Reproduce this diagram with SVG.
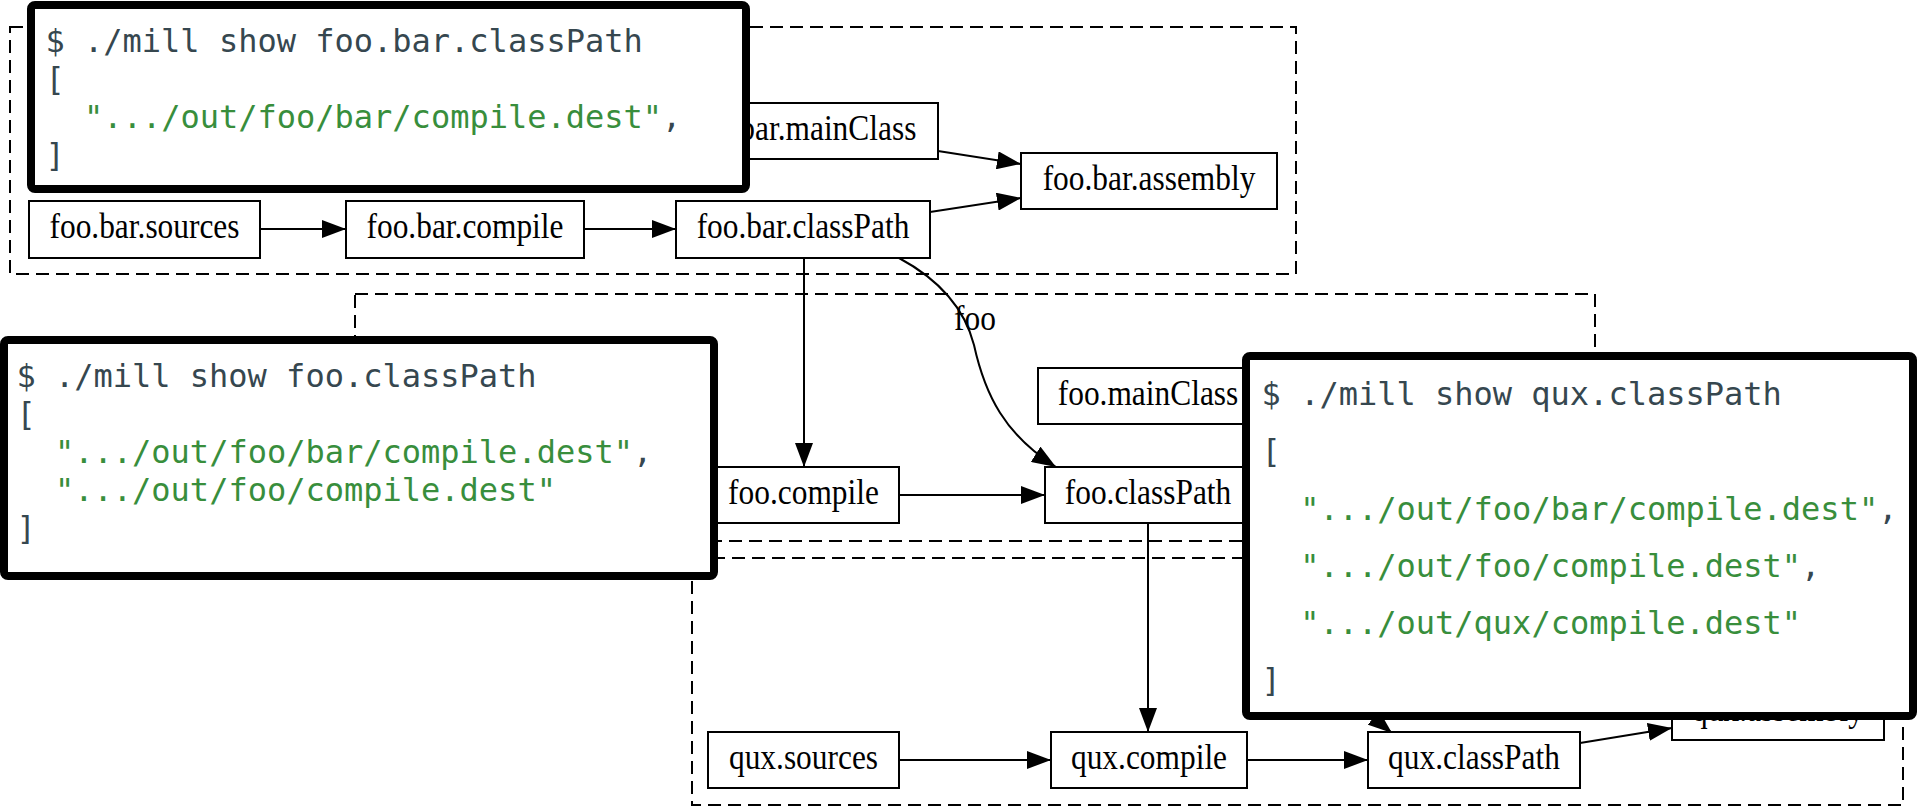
<svg xmlns="http://www.w3.org/2000/svg" width="1920" height="808" viewBox="0 0 1920 808">
<style>
.bg{fill:#ffffff}
.cluster{fill:none;stroke:#000;stroke-width:2;stroke-dasharray:13,7}
.node rect{fill:#fff;stroke:#000;stroke-width:2}
.lbl{font-family:"Liberation Serif","Times New Roman",serif;font-size:31.4px;fill:#000;text-anchor:middle}
.edge{fill:none;stroke:#000;stroke-width:2;marker-end:url(#arr)}
.popup rect{fill:#fff;stroke:#000;stroke-width:8}
.code{font-family:"DejaVu Sans Mono","Liberation Mono",monospace;font-size:32px;fill:#36474f}
.str{fill:#388e3c}
</style>
<defs>
<marker id="arr" viewBox="0 0 24 18" refX="24" refY="9" markerWidth="24" markerHeight="18" markerUnits="userSpaceOnUse" orient="auto">
<path d="M0,0 L24,9 L0,18 z" fill="#000"/>
</marker>
</defs>
<rect class="bg" x="0" y="0" width="1920" height="808"/>
<g id="clusters">
<rect class="cluster" x="10" y="27" width="1286" height="247"/>
<rect class="cluster" x="355" y="294" width="1240" height="247"/>
<text class="lbl" transform="translate(975,330) scale(1,1.15)">foo</text>
<rect class="cluster" x="692" y="558" width="1211" height="247"/>
</g>
<g id="connectors">
<path class="edge" d="M260,229 L346,229"/>
<path class="edge" d="M584,229 L676,229"/>
<path class="edge" d="M938,151 L1021,164"/>
<path class="edge" d="M930,212 L1021,198"/>
<path class="edge" d="M804,258 L804,467"/>
<path class="edge" d="M899,258 C940,280 965,310 974,345 C985,395 1005,435 1056,467"/>
<path class="edge" d="M899,495 L1045,495"/>
<path class="edge" d="M1148,523 L1148,732"/>
<path class="edge" d="M899,760 L1051,760"/>
<path class="edge" d="M1247,760 L1368,760"/>
<path class="edge" d="M1580,743 L1672,728"/>
<path class="edge" d="M1249,523 C1270,610 1340,690 1392,733"/>
</g>
<g id="foo.bar.mainClass" class="node"><rect x="668" y="103" width="270" height="56"/><text class="lbl" transform="translate(803,140) scale(1,1.15)">foo.bar.mainClass</text></g>
<g id="foo.bar.assembly" class="node"><rect x="1021" y="153" width="256" height="56"/><text class="lbl" transform="translate(1149,190) scale(1,1.15)">foo.bar.assembly</text></g>
<g id="foo.bar.sources" class="node"><rect x="29" y="201" width="231" height="57"/><text class="lbl" transform="translate(144.5,238) scale(1,1.15)">foo.bar.sources</text></g>
<g id="foo.bar.compile" class="node"><rect x="346" y="201" width="238" height="57"/><text class="lbl" transform="translate(465,238) scale(1,1.15)">foo.bar.compile</text></g>
<g id="foo.bar.classPath" class="node"><rect x="676" y="201" width="254" height="57"/><text class="lbl" transform="translate(803,238) scale(1,1.15)">foo.bar.classPath</text></g>
<g id="foo.mainClass" class="node"><rect x="1038" y="368" width="220" height="56"/><text class="lbl" transform="translate(1148,405) scale(1,1.15)">foo.mainClass</text></g>
<g id="foo.compile" class="node"><rect x="708" y="467" width="191" height="56"/><text class="lbl" transform="translate(803.5,504) scale(1,1.15)">foo.compile</text></g>
<g id="foo.classPath" class="node"><rect x="1045" y="467" width="205" height="56"/><text class="lbl" transform="translate(1148,504) scale(1,1.15)">foo.classPath</text></g>
<g id="qux.sources" class="node"><rect x="708" y="732" width="191" height="56"/><text class="lbl" transform="translate(803.5,769) scale(1,1.15)">qux.sources</text></g>
<g id="qux.compile" class="node"><rect x="1051" y="732" width="196" height="56"/><text class="lbl" transform="translate(1149,769) scale(1,1.15)">qux.compile</text></g>
<g id="qux.classPath" class="node"><rect x="1368" y="732" width="212" height="56"/><text class="lbl" transform="translate(1474,769) scale(1,1.15)">qux.classPath</text></g>
<g id="qux.assembly" class="node"><rect x="1672" y="684" width="212" height="56"/><text class="lbl" transform="translate(1778,721) scale(1,1.15)">qux.assembly</text></g>
<g id="popup-foo-bar" class="popup">
<rect x="31" y="5" width="715" height="184" rx="4"/>
<text class="code" x="45.5" y="52">$ ./mill show foo.bar.classPath</text>
<text class="code" x="45.5" y="90">[</text>
<text class="code" x="84.1" y="128"><tspan class="str">".../out/foo/bar/compile.dest"</tspan>,</text>
<text class="code" x="45.5" y="166">]</text>
</g>
<g id="popup-foo" class="popup">
<rect x="4" y="340" width="710" height="236" rx="4"/>
<text class="code" x="16.4" y="387">$ ./mill show foo.classPath</text>
<text class="code" x="16.4" y="425">[</text>
<text class="code" x="55" y="463"><tspan class="str">".../out/foo/bar/compile.dest"</tspan>,</text>
<text class="code" x="55" y="501"><tspan class="str">".../out/foo/compile.dest"</tspan></text>
<text class="code" x="16.4" y="539">]</text>
</g>
<g id="popup-qux" class="popup">
<rect x="1246" y="356" width="667" height="360" rx="4"/>
<text class="code" x="1261.6" y="405">$ ./mill show qux.classPath</text>
<text class="code" x="1261.6" y="462">[</text>
<text class="code" x="1300.2" y="520"><tspan class="str">".../out/foo/bar/compile.dest"</tspan>,</text>
<text class="code" x="1300.2" y="577"><tspan class="str">".../out/foo/compile.dest"</tspan>,</text>
<text class="code" x="1300.2" y="634"><tspan class="str">".../out/qux/compile.dest"</tspan></text>
<text class="code" x="1261.6" y="691">]</text>
</g>
</svg>
